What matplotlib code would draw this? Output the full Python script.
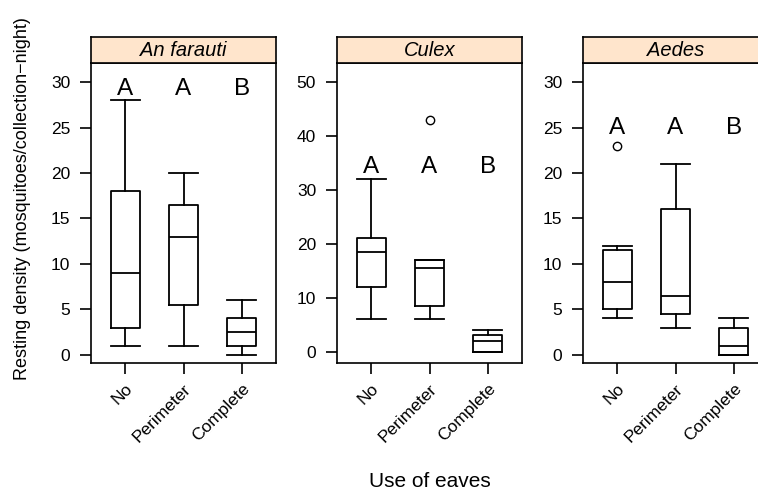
import matplotlib
matplotlib.use("Agg")
import matplotlib.pyplot as plt

plt.rcParams["font.family"] = ["Liberation Sans", "DejaVu Sans"]

# Dữ liệu
species = ["An farauti", "Culex", "Aedes"]
eaves = ["No", "Perimeter", "Complete"]

whislo = [[1, 1, 0], [6, 6, 0], [4, 3, 0]]
q1 = [[3, 5.5, 1], [12, 8.5, 0], [5, 4.5, 0]]
med = [[9, 13, 2.5], [18.5, 15.5, 2], [8, 6.5, 1]]
q3 = [[18, 16.5, 4], [21, 17, 3], [11.5, 16, 3]]
whishi = [[28, 20, 6], [32, 17, 4], [12, 21, 4]]
fliers = [[[], [], []], [[], [43], []], [[23], [], []]]

letters = ["A", "A", "B"]
letter_y = [29.2, 34.3, 25]
yticks = [[0, 5, 10, 15, 20, 25, 30], [0, 10, 20, 30, 40, 50], [0, 5, 10, 15, 20, 25, 30]]
ylims = [(-0.9, 32.1), (-2.1, 53.5), (-0.9, 32.1)]

fig = plt.figure(figsize=(7.58, 4.9), dpi=100)
W, H = 758, 490
lefts = [91, 337, 583]
pw = 185
top, bottom, strip_top = 63, 363, 37

for i in range(3):
    ax = fig.add_axes([lefts[i] / W, 1 - bottom / H, pw / W, (bottom - top) / H])
    stats = []
    for j in range(3):
        stats.append(dict(med=med[i][j], q1=q1[i][j], q3=q3[i][j],
                          whislo=whislo[i][j], whishi=whishi[i][j],
                          fliers=fliers[i][j]))
    lp = dict(color="black", linewidth=1.3)
    ax.bxp(stats, positions=[1, 2, 3], widths=0.5, patch_artist=False,
           boxprops=lp, whiskerprops=lp, capprops=lp, medianprops=lp,
           flierprops=dict(marker="o", markerfacecolor="none",
                           markeredgecolor="black", markersize=6),
           capwidths=0.5)
    for j in range(3):
        ax.text(j + 1, letter_y[i], letters[j], ha="center", va="center", fontsize=17.5)
    ax.set_xlim(0.41, 3.59)
    ax.set_ylim(*ylims[i])
    ax.set_yticks(yticks[i])
    ax.set_xticks([1, 2, 3])
    ax.set_xticklabels(eaves, rotation=45, ha="right", va="top",
                       rotation_mode="anchor")
    ax.tick_params(axis="both", length=8, width=1.2, direction="out")
    ax.tick_params(axis="y", pad=7, labelsize=12.5)
    ax.tick_params(axis="x", pad=5, labelsize=12.5)
    for s in ax.spines.values():
        s.set_linewidth(1.2)

    # strip
    sax = fig.add_axes([lefts[i] / W, 1 - top / H, pw / W, (top - strip_top) / H])
    sax.set_facecolor("#FFE5CC")
    sax.set_xticks([])
    sax.set_yticks([])
    for s in sax.spines.values():
        s.set_linewidth(1.2)
    sax.text(0.5, 0.47, species[i], ha="center", va="center", style="italic",
             fontsize=14.5, transform=sax.transAxes)

fig.text(23 / W, 1 - 199 / H, "Resting density (mosquitoes/collection\u2212night)",
         rotation=90, ha="center", va="center", fontsize=13)
fig.text(430 / W, 1 - 487 / H, "Use of eaves", ha="center", va="baseline", fontsize=15)

fig.savefig("out.png", dpi=100)
